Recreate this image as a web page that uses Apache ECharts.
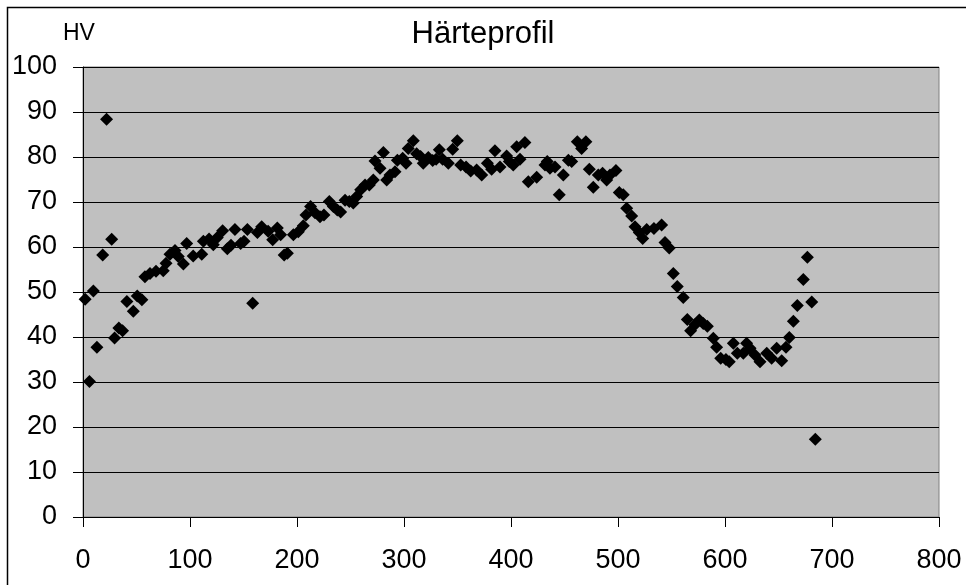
<!DOCTYPE html>
<html>
<head>
<meta charset="utf-8">
<script src="https://cdn.jsdelivr.net/npm/echarts@6/dist/echarts.min.js"></script>
<style>
html,body{margin:0;padding:0;background:#fff;}
#c{width:966px;height:585px;}
</style>
</head>
<body>
<div id="c"></div>
<script>
const titleText = 'Härteprofil';
const yAxisName = 'HV';
const xTicks = [0, 100, 200, 300, 400, 500, 600, 700, 800];
const yTicks = [0, 10, 20, 30, 40, 50, 60, 70, 80, 90, 100];

const depth = [
  2, 6, 9.7, 13, 18.4, 22, 26.8, 29.5, 33.5, 37,
  41, 47, 50.7, 55, 57.9, 62.6, 68.2, 75, 77.6, 81.3,
  86, 89, 93.8, 96.9, 103, 111, 112.5, 117.8, 121.8, 125.5,
  130.5, 134.9, 138.3, 142, 147.3, 150.5, 153.6, 158.6, 163, 167,
  173, 177.3, 181.6, 184.7, 188, 191, 196.6, 201.2, 205.9, 208.4,
  212.7, 216.8, 221.5, 225.2, 230.2, 234, 237.7, 240.8, 244.9, 248.9,
  252.6, 255.8, 259.5, 263.6, 267.6, 271.3, 272.9, 277.6, 280.7, 283.8,
  286.9, 291.6, 293.8, 298.8, 301.9, 304, 308.7, 311.8, 315.5, 318,
  322.7, 326.8, 330, 333, 336.1, 341.4, 345.5, 349.8, 353, 358,
  362.3, 367.9, 372.6, 377.9, 381.9, 385, 389.7, 395.9, 398.4, 402.1,
  405.3, 408.4, 413, 416.2, 424, 431.8, 433.9, 436.4, 441.1, 445.1,
  448.9, 453.6, 456.7, 462, 466, 470, 473.2, 476.9, 481.6, 485.6,
  489.4, 492.5, 498.1, 501.2, 504.9, 508.1, 512.8, 515.9, 519.9, 523.1,
  526.8, 533.6, 540.8, 543.9, 547.9, 551.7, 555.4, 561, 564.8, 567.9,
  571.9, 576, 579.7, 583.5, 589.1, 592.2, 596, 600.9, 604, 607.8,
  611.5, 617.1, 620.2, 623.4, 628, 632.7, 639, 643.6, 648.3, 653,
  657, 660.1, 663.9, 667.6, 673.2, 677, 681.1, 684.4
];
const hardness = [
  48.4, 30.1, 50.2, 37.7, 58.2, 88.4, 61.7, 39.8, 42, 41.4,
  47.9, 45.7, 49.1, 48.3, 53.4, 54.1, 54.6, 54.7, 56.4, 58.4,
  59.2, 57.9, 56.2, 60.8, 58, 58.4, 61.3, 61.8, 60.5, 62.1,
  63.6, 59.6, 60.4, 63.9, 60.8, 61.3, 63.9, 47.5, 63.2, 64.5,
  63.5, 61.6, 64.2, 62.7, 58.2, 58.6, 62.7, 63.4, 64.7, 67.1,
  69, 67.6, 66.7, 67.1, 70.1, 69, 68.2, 67.8, 70.4, 70.1,
  69.8, 71.2, 72.7, 73.8, 73.8, 74.9, 79.1, 77.5, 81, 74.9,
  76, 76.7, 79.3, 79.7, 78.6, 81.9, 83.6, 80.7, 80.1, 78.6,
  79.9, 79.2, 79.5, 81.6, 79.5, 78.6, 81.7, 83.6, 78.2, 77.8,
  76.9, 77.1, 76, 78.6, 77.3, 81.4, 77.8, 80.2, 79, 78.2,
  82.3, 79.5, 83.2, 74.5, 75.5, 78.2, 79, 77.5, 77.8, 71.6,
  76, 79.3, 79, 83.4, 81.9, 83.4, 77.3, 73.3, 76, 76.4,
  74.9, 76, 77, 72.1, 71.6, 68.6, 66.9, 64.5, 63.2, 61.9,
  63.9, 64.1, 64.9, 61, 59.8, 54.1, 51.2, 48.8, 43.9, 41.4,
  42.7, 43.8, 43, 42.4, 39.7, 37.7, 35.3, 35, 34.5, 38.6,
  36.4, 36.4, 38.6, 37.5, 36, 34.5, 36.4, 35.3, 37.5, 34.7,
  37.7, 39.9, 43.5, 47, 52.8, 57.7, 47.8, 17.3
];

const points = depth.map((d, i) => [d, hardness[i]]);
const FONT = '"Liberation Sans", Arial, sans-serif';

const chart = echarts.init(document.getElementById('c'), null, {renderer: 'canvas'});
chart.setOption({
  animation: false,
  backgroundColor: '#ffffff',
  title: {
    text: titleText,
    left: 'center',
    top: 14,
    textStyle: {fontFamily: FONT, fontSize: 31, fontWeight: 'normal', color: '#000'}
  },
  graphic: [
    {
      type: 'rect', z: -1, silent: true,
      shape: {x: 7.5, y: 7.5, width: 1000, height: 700},
      style: {fill: 'none', stroke: '#000', lineWidth: 1.5}
    },
    {
      type: 'text', left: 63, top: 22, silent: true,
      style: {text: yAxisName, fontFamily: FONT, fontSize: 23, fill: '#000'}
    }
  ],
  grid: {
    left: 83, top: 67, right: 27, bottom: 68,
    show: true,
    backgroundColor: '#C0C0C0',
    borderColor: '#808080',
    borderWidth: 1
  },
  xAxis: {
    type: 'value',
    min: xTicks[0], max: xTicks[xTicks.length - 1], interval: 100,
    axisLine: {show: true, lineStyle: {color: '#000', width: 1}},
    axisTick: {show: true, inside: false, length: 10, lineStyle: {color: '#000'}},
    axisLabel: {fontFamily: FONT, fontSize: 27, color: '#000', margin: 30},
    splitLine: {show: false}
  },
  yAxis: {
    type: 'value',
    min: yTicks[0], max: yTicks[yTicks.length - 1], interval: 10,
    axisLine: {show: true, lineStyle: {color: '#000', width: 1}},
    axisTick: {show: true, inside: false, length: 10, lineStyle: {color: '#000'}},
    axisLabel: {fontFamily: FONT, fontSize: 27, color: '#000', margin: 26},
    splitLine: {show: true, lineStyle: {color: '#000', width: 1}}
  },
  series: [{
    type: 'scatter',
    data: points,
    symbol: 'diamond',
    symbolSize: 13,
    itemStyle: {color: '#000', opacity: 1},
    clip: false
  }]
});
</script>
</body>
</html>
